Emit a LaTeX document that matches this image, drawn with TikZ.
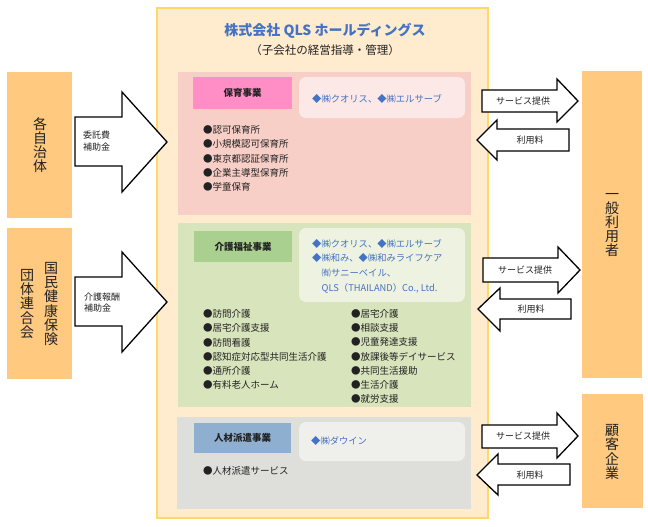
\documentclass[tikz,border=0pt]{standalone}
\usepackage{fontspec}
\setmainfont{Noto Sans CJK JP}
\definecolor{outerfill}{HTML}{FFEBCD}
\definecolor{outerline}{HTML}{FFD966}
\definecolor{pinksec}{HTML}{F8CFC7}
\definecolor{pinkhead}{HTML}{FF8EC6}
\definecolor{pinkbox}{HTML}{FCE8E6}
\definecolor{greensec}{HTML}{D8E4BC}
\definecolor{greenhead}{HTML}{A9D08E}
\definecolor{greenbox}{HTML}{EEF2E0}
\definecolor{graysec}{HTML}{DEDFDB}
\definecolor{grayhead}{HTML}{8EAFD0}
\definecolor{graybox}{HTML}{EFEFEC}
\definecolor{orangebox}{HTML}{FFC97F}
\definecolor{qblue}{HTML}{4472C4}
\definecolor{ink}{HTML}{222222}
\tikzset{
  sec/.style={fill=#1, draw=none},
  headbox/.style={fill=#1, draw=none, text=ink, font=\fontsize{9.5}{11}\selectfont\bfseries},
  cobox/.style={fill=#1, draw=none, rounded corners=7pt},
  cotext/.style={anchor=west, inner sep=0pt, text=qblue, font=\fontsize{9.3}{11}\selectfont},
  bullet/.style={anchor=west, inner sep=0pt, text=ink, font=\fontsize{9.5}{11}\selectfont},
  sidebox/.style={fill=orangebox, draw=none},
  vtext/.style={align=center, inner sep=0pt, text=ink, font=\fontsize{14}{14.2}\selectfont},
  blockarrow/.style={draw=black, fill=white, line width=1.3pt, line join=miter},
  alabel/.style={inner sep=0pt, text=ink, font=\fontsize{9}{11.5}\selectfont},
}
\begin{document}
\begin{tikzpicture}[x=1pt,y=-1pt]
\useasboundingbox (0,0) rectangle (648,527);
% container
\draw[fill=outerfill, draw=outerline, line width=1.2pt] (157,8) rectangle (488,518);
\node[text=qblue, font=\fontsize{14}{16}\selectfont\bfseries] (title) at (325,31) {株式会社 QLS ホールディングス};
\node[text=ink, font=\fontsize{11.5}{13}\selectfont] (subtitle) at (325,50) {（子会社の経営指導・管理）};

% section 1
\fill[sec=pinksec] (178,72) rectangle (471,215);
\node[headbox=pinkhead, minimum width=99pt, minimum height=32pt] (h1) at (242.5,93) {保育事業};
\fill[cobox=pinkbox] (299,77) rectangle (465,118);
\node[cotext] (c1) at (312,98.5) {◆㈱クオリス、◆㈱エルサーブ};
\foreach \t [count=\i] in {認可保育所,小規模認可保育所,東京都認証保育所,企業主導型保育所,学童保育}
  \node[bullet] (b1\i) at (203,{130+14.25*(\i-1)}) {●\t};

% section 2
\fill[sec=greensec] (178,223) rectangle (471,407);
\node[headbox=greenhead, minimum width=98pt, minimum height=31pt] (h2) at (243,246.5) {介護福祉事業};
\fill[cobox=greenbox] (299,228) rectangle (465,302);
\node[cotext] (c21) at (312,244) {◆㈱クオリス、◆㈱エルサーブ};
\node[cotext] (c22) at (312,258) {◆㈱和み、◆㈱和みライフケア};
\node[cotext] (c23) at (321.5,273) {㈲サニーベイル、};
\node[cotext] (c24) at (321.5,288) {QLS（THAILAND）Co., Ltd.};
\foreach \t [count=\i] in {訪問介護,居宅介護支援,訪問看護,認知症対応型共同生活介護,通所介護,有料老人ホーム}
  \node[bullet] (b2\i) at (203,{314+14.2*(\i-1)}) {●\t};
\foreach \t [count=\i] in {居宅介護,相談支援,児童発達支援,放課後等デイサービス,共同生活援助,生活介護,就労支援}
  \node[bullet] (b3\i) at (351,{314+14.2*(\i-1)}) {●\t};

% section 3
\fill[sec=graysec] (177,417) rectangle (471,509);
\node[headbox=grayhead, minimum width=97pt, minimum height=30pt] (h3) at (242.5,438) {人材派遣事業};
\fill[cobox=graybox] (299,422) rectangle (465,461);
\node[cotext] (c3) at (311,441) {◆㈱ダウイン};
\node[bullet] (b41) at (203,471) {●人材派遣サービス};

% left side boxes
\fill[sidebox] (7,72) rectangle (72,218);
\node[vtext] (jichi) at (40,145) {各\\自\\治\\体};
\fill[sidebox] (7,228) rectangle (72,379);
\node[vtext] (kokumin) at (51,304) {国\\民\\健\\康\\保\\険};
\node[vtext] (dantai) at (27,304) {団\\体\\連\\合\\会};

% right side boxes
\fill[sidebox] (582,71) rectangle (642,378);
\node[vtext] (ippan) at (612,225) {一\\般\\利\\用\\者};
\fill[sidebox] (582,394) rectangle (643,508);
\node[vtext] (kokyaku) at (612,452) {顧\\客\\企\\業};

% left block arrows
\draw[blockarrow] (75,117) -- (122,117) -- (122,92) -- (167,142) -- (122,192) -- (122,166) -- (75,166) -- cycle;
\node[alabel, anchor=west, align=left] (la1) at (83,141) {委託費\\補助金};
\draw[blockarrow] (75,277) -- (122,277) -- (122,252) -- (167,302) -- (122,352) -- (122,326) -- (75,326) -- cycle;
\node[alabel, anchor=west, align=left] (la2) at (84,302.5) {介護報酬\\補助金};

% right block arrows, section 1
\draw[blockarrow] (482,90) -- (557,90) -- (557,79) -- (578,101) -- (557,122) -- (557,112) -- (482,112) -- cycle;
\node[alabel] (r1) at (523,101) {サービス提供};
\draw[blockarrow] (477,140) -- (497,120) -- (497,129) -- (569,129) -- (569,151) -- (497,151) -- (497,160) -- cycle;
\node[alabel] (l1) at (530,140) {利用料};
% section 2
\draw[blockarrow] (483,258) -- (558,258) -- (558,247) -- (580,270) -- (558,293) -- (558,282) -- (483,282) -- cycle;
\node[alabel] (r2) at (525,270.5) {サービス提供};
\draw[blockarrow] (478,309) -- (500,288) -- (500,299) -- (571,299) -- (571,319) -- (500,319) -- (500,331) -- cycle;
\node[alabel] (l2) at (531,309.5) {利用料};
% section 3
\draw[blockarrow] (482,425) -- (557,425) -- (557,413) -- (578,436) -- (557,458) -- (557,448) -- (482,448) -- cycle;
\node[alabel] (r3) at (523,436.5) {サービス提供};
\draw[blockarrow] (477,475) -- (498,454) -- (498,464) -- (570,464) -- (570,485) -- (498,485) -- (498,495) -- cycle;
\node[alabel] (l3) at (530,475) {利用料};
\end{tikzpicture}
\end{document}
